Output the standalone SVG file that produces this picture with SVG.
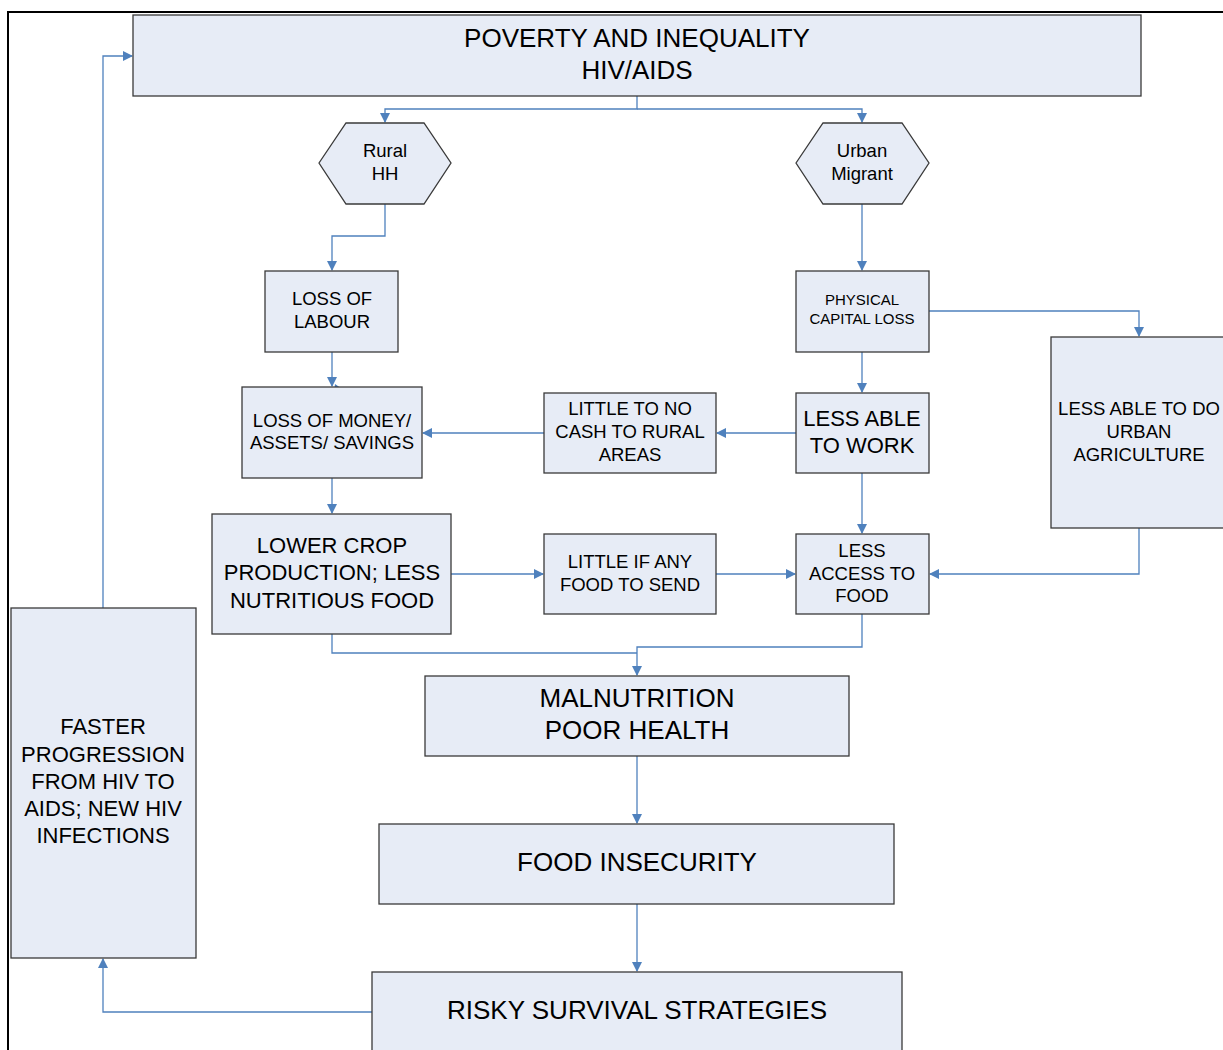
<svg xmlns="http://www.w3.org/2000/svg" width="1223" height="1050" viewBox="0 0 1223 1050">
<style>
.b{fill:#E7ECF6;stroke:#3A3A3A;stroke-width:1.3}
.t{font-family:"Liberation Sans",Arial,sans-serif;fill:#000;text-anchor:middle}
.s{font-size:18.5px}
.m{font-size:22px}
.l{font-size:26px}
.p{font-size:15px}
.c{fill:none;stroke:#4F81BD;stroke-width:1.3}
</style>
<defs>
<marker id="a" markerWidth="10" markerHeight="10" refX="9" refY="5" orient="auto" markerUnits="userSpaceOnUse"><path d="M0,0 L10,5 L0,10 Z" fill="#4F81BD"/></marker>
</defs>
<rect width="1223" height="1050" fill="#fff"/>
<rect x="8" y="12" width="1230" height="1050" fill="none" stroke="#000" stroke-width="2"/>
<g id="connectors">
<path class="c" d="M637,96 V109 H385 V122" marker-end="url(#a)"/>
<path class="c" d="M637,109 H862 V122" marker-end="url(#a)"/>
<path class="c" d="M385,204 V236 H332 V270" marker-end="url(#a)"/>
<path class="c" d="M332,352 V386" marker-end="url(#a)"/>
<path d="M335,384 L345,391 L334,392 Z" fill="#4F81BD"/>
<path class="c" d="M862,204 V270" marker-end="url(#a)"/>
<path class="c" d="M929,311 H1139 V336" marker-end="url(#a)"/>
<path class="c" d="M862,352 V392" marker-end="url(#a)"/>
<path class="c" d="M796,433 H717" marker-end="url(#a)"/>
<path class="c" d="M544,433 H423" marker-end="url(#a)"/>
<path class="c" d="M332,478 V513" marker-end="url(#a)"/>
<path class="c" d="M451,574 H543" marker-end="url(#a)"/>
<path class="c" d="M716,574 H795" marker-end="url(#a)"/>
<path class="c" d="M862,473 V533" marker-end="url(#a)"/>
<path class="c" d="M1139,528 V574 H930" marker-end="url(#a)"/>
<path class="c" d="M332,634 V653 H637"/>
<path class="c" d="M862,614 V647 H637 V675" marker-end="url(#a)"/>
<path class="c" d="M637,756 V823" marker-end="url(#a)"/>
<path class="c" d="M637,904 V971" marker-end="url(#a)"/>
<path class="c" d="M372,1012 H103 V959" marker-end="url(#a)"/>
<path class="c" d="M103,608 V56 H132" marker-end="url(#a)"/>
</g>
<g id="poverty"><rect class="b" x="133" y="15" width="1008" height="81"/><text class="t l" x="637" y="47">POVERTY AND INEQUALITY</text><text class="t l" x="637" y="79">HIV/AIDS</text></g>
<g id="rural"><polygon class="b" points="319,163 346,123 424,123 451,163 424,204 346,204"/><text class="t s" x="385" y="157">Rural</text><text class="t s" x="385" y="180">HH</text></g>
<g id="urban"><polygon class="b" points="796,163 823,123 902,123 929,163 902,204 823,204"/><text class="t s" x="862" y="157">Urban</text><text class="t s" x="862" y="180">Migrant</text></g>
<g id="labour"><rect class="b" x="265" y="271" width="133" height="81"/><text class="t s" x="332" y="305">LOSS OF</text><text class="t s" x="332" y="328">LABOUR</text></g>
<g id="physical"><rect class="b" x="796" y="271" width="133" height="81"/><text class="t p" x="862" y="305">PHYSICAL</text><text class="t p" x="862" y="324">CAPITAL LOSS</text></g>
<g id="money"><rect class="b" x="242" y="387" width="180" height="91"/><text class="t s" x="332" y="427">LOSS OF MONEY/</text><text class="t s" x="332" y="449">ASSETS/ SAVINGS</text></g>
<g id="cash"><rect class="b" x="544" y="393" width="172" height="80"/><text class="t s" x="630" y="415">LITTLE TO NO</text><text class="t s" x="630" y="438">CASH TO RURAL</text><text class="t s" x="630" y="461">AREAS</text></g>
<g id="work"><rect class="b" x="796" y="393" width="133" height="80"/><text class="t m" x="862" y="426">LESS ABLE</text><text class="t m" x="862" y="453">TO WORK</text></g>
<g id="urbanagri"><rect class="b" x="1051" y="337" width="180" height="191"/><text class="t s" x="1139" y="415">LESS ABLE TO DO</text><text class="t s" x="1139" y="438">URBAN</text><text class="t s" x="1139" y="461">AGRICULTURE</text></g>
<g id="crop"><rect class="b" x="212" y="514" width="239" height="120"/><text class="t m" x="332" y="553">LOWER CROP</text><text class="t m" x="332" y="580">PRODUCTION; LESS</text><text class="t m" x="332" y="608">NUTRITIOUS FOOD</text></g>
<g id="send"><rect class="b" x="544" y="534" width="172" height="80"/><text class="t s" x="630" y="568">LITTLE IF ANY</text><text class="t s" x="630" y="591">FOOD TO SEND</text></g>
<g id="access"><rect class="b" x="796" y="534" width="133" height="80"/><text class="t s" x="862" y="557">LESS</text><text class="t s" x="862" y="580">ACCESS TO</text><text class="t s" x="862" y="602">FOOD</text></g>
<g id="malnutrition"><rect class="b" x="425" y="676" width="424" height="80"/><text class="t l" x="637" y="707">MALNUTRITION</text><text class="t l" x="637" y="739">POOR HEALTH</text></g>
<g id="insecurity"><rect class="b" x="379" y="824" width="515" height="80"/><text class="t l" x="637" y="871">FOOD INSECURITY</text></g>
<g id="risky"><rect class="b" x="372" y="972" width="530" height="90"/><text class="t l" x="637" y="1019">RISKY SURVIVAL STRATEGIES</text></g>
<g id="faster"><rect class="b" x="11" y="608" width="185" height="350"/><text class="t m" x="103" y="734">FASTER</text><text class="t m" x="103" y="762">PROGRESSION</text><text class="t m" x="103" y="789">FROM HIV TO</text><text class="t m" x="103" y="816">AIDS; NEW HIV</text><text class="t m" x="103" y="843">INFECTIONS</text></g>
</svg>
